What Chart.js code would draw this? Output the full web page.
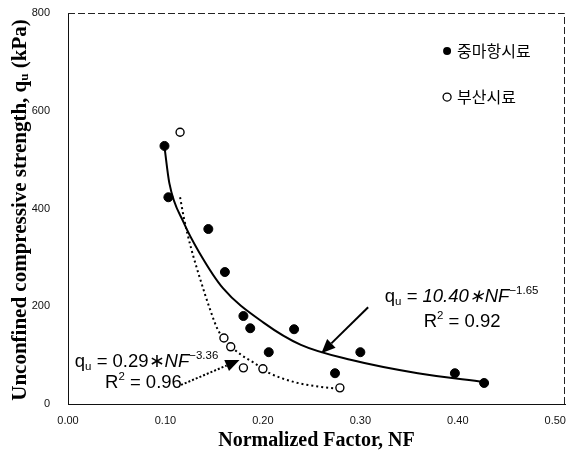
<!DOCTYPE html>
<html>
<head>
<meta charset="utf-8">
<script src="https://cdn.jsdelivr.net/npm/chart.js@4/dist/chart.umd.min.js"></script>
<style>
html, body { margin: 0; padding: 0; background: #fff; }
#wrap { width: 577px; height: 455px; position: relative; }
</style>
</head>
<body>
<div id="wrap"><canvas id="chart"></canvas></div>
<script>
'use strict'
const ctx = document.getElementById('chart').getContext('2d')

// 중마항시료 (filled)
const nfJungma = [0.099, 0.103, 0.144, 0.161, 0.180, 0.187, 0.206, 0.232, 0.274, 0.300, 0.397, 0.427]
const quJungma = [528, 423, 358, 270, 180, 155, 106, 153, 63, 106, 63, 43]
// 부산시료 (open)
const nfBusan = [0.115, 0.160, 0.167, 0.180, 0.200, 0.279]
const quBusan = [556, 135, 117, 74, 72, 33]

// trend lines
const nfFitJungma = [0.099, 0.104, 0.119, 0.135, 0.159, 0.201, 0.239, 0.291, 0.359, 0.427]
const quFitJungma = [526, 452, 370, 309, 237, 166, 121, 90, 63, 45]
const nfFitBusan = [0.115, 0.119, 0.126, 0.137, 0.145, 0.154, 0.164, 0.178, 0.191, 0.205, 0.232, 0.260, 0.279]
const quFitBusan = [423, 380, 321, 247, 198, 151, 125, 100, 84, 65, 45, 35, 31]

const xTicks = [0, 0.1, 0.2, 0.3, 0.4, 0.5]
const yTicks = [0, 200, 400, 600, 800]

const legendLabels = ['중마항시료', '부산시료']

const toXY = (xs, ys) => xs.map((x, i) => ({ x: x, y: ys[i] }))

// annotation text + arrows (data units)
const equations = [
  { x: 0.325, y: 209, parts: [['q'], ['u', 'sub'], [' = 10.40', 'it'], ['\u2217', 'it'], ['NF', 'it'], ['\u22121.65', 'sup']] },
  { x: 0.365, y: 157, parts: [['R'], ['2', 'sup'], [' = 0.92']] },
  { x: 0.007, y: 76, parts: [['q'], ['u', 'sub'], [' = 0.29'], ['\u2217'], ['NF', 'it'], ['\u22123.36', 'sup']] },
  { x: 0.038, y: 33, parts: [['R'], ['2', 'sup'], [' = 0.96']] },
]
const arrows = [
  { from: [0.308, 198], to: [0.260, 104], dash: [] },
  { from: [0.116, 39], to: [0.176, 90], dash: [2, 2] },
]

function drawRich(c, parts, x, y, size, family) {
  let cx = x
  for (const p of parts) {
    const txt = p[0], kind = p[1]
    let s = size, dy = 0, style = ''
    if (kind === 'sup') { s = size * 0.62; dy = -size * 0.42 }
    if (kind === 'sub') { s = size * 0.62; dy = size * 0.18 }
    if (kind === 'it') style = 'italic '
    c.font = style + s + 'px ' + family
    c.fillText(txt, cx, y + dy)
    cx += c.measureText(txt).width
  }
  return cx - x
}

const extras = {
  id: 'extras',
  afterDraw(chart) {
    const c = chart.ctx
    const xs = chart.scales.x
    const ys = chart.scales.y
    const a = chart.chartArea
    c.save()

    // dashed top / right frame
    c.strokeStyle = '#222'
    c.lineWidth = 1
    c.setLineDash([7, 3])
    c.beginPath()
    c.moveTo(a.left, a.top + 0.5)
    c.lineTo(a.right - 0.5, a.top + 0.5)
    c.lineTo(a.right - 0.5, a.bottom)
    c.stroke()
    c.setLineDash([])

    // arrows
    c.fillStyle = '#000'
    c.strokeStyle = '#000'
    for (const ar of arrows) {
      const x0 = xs.getPixelForValue(ar.from[0]), y0 = ys.getPixelForValue(ar.from[1])
      const x1 = xs.getPixelForValue(ar.to[0]), y1 = ys.getPixelForValue(ar.to[1])
      const ang = Math.atan2(y1 - y0, x1 - x0)
      const hl = 14, hw = 6
      const bx = x1 - hl * Math.cos(ang), by = y1 - hl * Math.sin(ang)
      c.lineWidth = 2
      c.setLineDash(ar.dash)
      c.beginPath()
      c.moveTo(x0, y0)
      c.lineTo(bx, by)
      c.stroke()
      c.setLineDash([])
      c.beginPath()
      c.moveTo(x1, y1)
      c.lineTo(bx + hw * Math.sin(ang), by - hw * Math.cos(ang))
      c.lineTo(bx - hw * Math.sin(ang), by + hw * Math.cos(ang))
      c.closePath()
      c.fill()
    }

    // equations
    c.textBaseline = 'alphabetic'
    c.textAlign = 'left'
    for (const eq of equations) {
      drawRich(c, eq.parts, xs.getPixelForValue(eq.x), ys.getPixelForValue(eq.y), 18.5, '"Liberation Sans", Arial, sans-serif')
    }

    // legend
    const lx = xs.getPixelForValue(0.389)
    const ly = [ys.getPixelForValue(722), ys.getPixelForValue(628)]
    c.font = '16px "Noto Sans CJK KR", sans-serif'
    c.textBaseline = 'middle'
    legendLabels.forEach((lab, i) => {
      c.beginPath()
      c.arc(lx, ly[i], 4, 0, Math.PI * 2)
      if (i === 0) { c.fillStyle = '#000'; c.fill() }
      else { c.lineWidth = 1.3; c.strokeStyle = '#000'; c.stroke() }
      c.fillStyle = '#000'
      c.fillText(lab, lx + 10, ly[i])
    })

    // axis titles
    const fam = '"Liberation Serif", "Times New Roman", serif'
    c.fillStyle = '#000'
    c.textBaseline = 'middle'
    c.textAlign = 'center'
    c.font = 'bold 20px ' + fam
    c.fillText('Normalized Factor, NF', (a.left + a.right) / 2, 441)

    const yParts = [['Unconfined compressive strength, q'], ['u', 'sub'], [' (kPa)']]
    const ysz = 21
    c.save()
    c.translate(21, 210)
    c.rotate(-Math.PI / 2)
    c.textAlign = 'left'
    let w = 0
    for (const p of yParts) {
      c.font = 'bold ' + (p[1] === 'sub' ? ysz * 0.62 : ysz) + 'px ' + fam
      w += c.measureText(p[0]).width
    }
    let cx = -w / 2
    for (const p of yParts) {
      const s = p[1] === 'sub' ? ysz * 0.62 : ysz
      c.font = 'bold ' + s + 'px ' + fam
      c.fillText(p[0], cx, p[1] === 'sub' ? 4 : 0)
      cx += c.measureText(p[0]).width
    }
    c.restore()

    c.restore()
  },
}

const data = {
  datasets: [
    {
      label: legendLabels[0],
      data: toXY(nfJungma, quJungma),
      backgroundColor: '#000',
      borderColor: '#000',
      pointRadius: 4.5,
      pointHoverRadius: 4.5,
      order: 0,
    },
    {
      label: legendLabels[1],
      data: toXY(nfBusan, quBusan),
      backgroundColor: '#fff',
      borderColor: '#000',
      borderWidth: 1.4,
      pointRadius: 4,
      pointHoverRadius: 4,
      order: 1,
    },
    {
      label: 'fit 중마항',
      data: toXY(nfFitJungma, quFitJungma),
      showLine: true,
      borderColor: '#000',
      borderWidth: 2,
      pointRadius: 0,
      cubicInterpolationMode: 'monotone',
      order: 2,
    },
    {
      label: 'fit 부산',
      data: toXY(nfFitBusan, quFitBusan),
      showLine: true,
      borderColor: '#000',
      borderWidth: 2,
      borderDash: [2, 3],
      pointRadius: 0,
      cubicInterpolationMode: 'monotone',
      order: 3,
    },
  ],
}

const tickFont = { family: '"Liberation Sans", Arial, sans-serif', size: 11 }

const config = {
  type: 'scatter',
  data: data,
  options: {
    responsive: true,
    maintainAspectRatio: false,
    animation: false,
    layout: { padding: { top: 13, right: 12, left: 0, bottom: 0 } },
    scales: {
      x: {
        type: 'linear',
        min: 0,
        max: 0.51,
        afterBuildTicks: (s) => { s.ticks = xTicks.map((v) => ({ value: v })) },
        afterFit: (s) => {
          s.height = 51
          s.paddingLeft = 0
          s.paddingRight = 0
        },
        grid: { display: false, drawTicks: false },
        border: { display: true, color: '#111', width: 1 },
        ticks: {
          padding: 10,
          color: '#111',
          font: tickFont,
          maxRotation: 0,
          callback: (v) => v.toFixed(2),
        },
      },
      y: {
        type: 'linear',
        min: 0,
        max: 800,
        afterBuildTicks: (s) => { s.ticks = yTicks.map((v) => ({ value: v })) },
        afterFit: (s) => {
          s.width = 68
          s.paddingTop = 0
          s.paddingBottom = 0
        },
        grid: { display: false, drawTicks: false },
        border: { display: true, color: '#111', width: 1 },
        ticks: {
          padding: 18,
          color: '#111',
          font: tickFont,
        },
      },
    },
    plugins: {
      legend: { display: false },
      tooltip: { enabled: false },
    },
  },
  plugins: [extras],
}

const chart = new Chart(ctx, config)
</script>
</body>
</html>
